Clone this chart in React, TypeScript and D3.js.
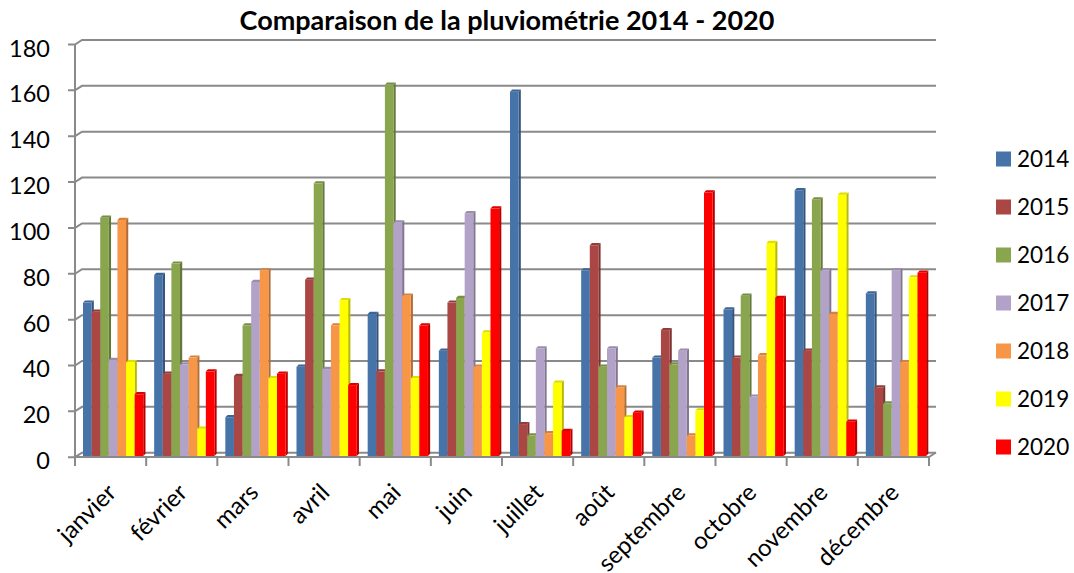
import React from "react";
import * as d3 from "d3";

const months = ["janvier", "février", "mars", "avril", "mai", "juin", "juillet", "août", "septembre", "octobre", "novembre", "décembre"];
const years = ["2014", "2015", "2016", "2017", "2018", "2019", "2020"];
const colors = ["#4674A9", "#AA4643", "#89A54E", "#B3A2C7", "#F79646", "#FFFF00", "#FF0000"];

const s2014 = [66, 78, 16, 38, 61, 45, 158, 80, 42, 63, 115, 70];
const s2015 = [62, 35, 34, 76, 36, 66, 13, 91, 54, 42, 45, 29];
const s2016 = [103, 83, 56, 118, 161, 68, 8, 38, 39, 69, 111, 22];
const s2017 = [41, 39, 75, 37, 101, 105, 46, 46, 45, 25, 80, 80];
const s2018 = [102, 42, 80, 56, 69, 38, 9, 29, 8, 43, 61, 40];
const s2019 = [40, 11, 33, 67, 33, 53, 31, 16, 19, 92, 113, 77];
const s2020 = [26, 36, 35, 30, 56, 107, 10, 18, 114, 68, 14, 79];
const series = [s2014, s2015, s2016, s2017, s2018, s2019, s2020];
const yTicks = [0, 20, 40, 60, 80, 100, 120, 140, 160, 180];
const title = "Comparaison de la pluviométrie 2014 - 2020";

const W = 1074, H = 573;
const axisX = 75, axisRight = 929;
const floorY = 457;
const depthX = 7, depthY = 4.5;
const barDepth = 2.2;
const FONT = "Lato, 'Open Sans', sans-serif";
const GRID = "#8a8a8a";

export default function App() {
  const y = d3.scaleLinear().domain([0, 180]).range([452.7, 40]);
  const x0 = d3.scaleBand<string>().domain(months).range([axisX, axisRight]).padding(0);
  const cw = x0.bandwidth();
  const x1 = d3.scaleBand<string>().domain(years).range([8, 8 + cw * 0.847]).padding(0);
  const bw = x1.bandwidth();

  return (
    <svg width={W} height={H} style={{ display: "block", position: "absolute", left: 0, top: 0, background: "#fff" }}>
      {yTicks.map((t) => {
        const yb = y(t);
        const yf = yb + depthY;
        return (
          <g key={t}>
            <polyline
              points={`${axisX - 7},${yf} ${axisX},${yf} ${axisX + depthX},${yb} ${axisRight + depthX},${yb}`}
              fill="none"
              stroke={GRID}
              strokeWidth={2}
            />
            <text x={50} y={yf + 3} textAnchor="end" dominantBaseline="central" fontFamily={FONT} fontSize={23.5} fill="#000">
              {t}
            </text>
          </g>
        );
      })}
      <line x1={axisX} x2={axisX} y1={y(180) + depthY} y2={floorY + 9} stroke={GRID} strokeWidth={2} />
      {months.map((m, i) => (
        <g key={m}>
          {series.map((s, j) => {
            const v = s[i];
            const bx = (x0(m) as number) + (x1(years[j]) as number);
            const top = y(v) + 1.2;
            const bot = floorY - 1;
            const c = colors[j];
            const side = d3.color(c)!.darker(0.9).formatHex();
            const topc = d3.color(c)!.darker(0.4).formatHex();
            const d = barDepth;
            return (
              <g key={j}>
                <polygon points={`${bx + bw},${top} ${bx + bw + d},${top - d} ${bx + bw + d},${bot - d} ${bx + bw},${bot}`} fill={side} />
                <polygon points={`${bx},${top} ${bx + d},${top - d} ${bx + bw + d},${top - d} ${bx + bw},${top}`} fill={topc} />
                <rect x={bx} y={top} width={bw} height={bot - top} fill={c} />
              </g>
            );
          })}
        </g>
      ))}
      <polyline
        points={`${axisX},${floorY} ${axisRight},${floorY} ${axisRight + depthX},${floorY - depthY}`}
        fill="none"
        stroke={GRID}
        strokeWidth={2}
      />
      {d3.range(months.length + 1).map((k) => {
        const xx = axisX + k * cw;
        return <line key={k} x1={xx} x2={xx} y1={floorY} y2={floorY + 9} stroke={GRID} strokeWidth={2} />;
      })}
      {months.map((m) => {
        const cx = (x0(m) as number) + cw / 2;
        const ax = cx + 7, ay = 494;
        return (
          <text key={m} x={ax} y={ay} transform={`rotate(-45 ${ax} ${ay})`} textAnchor="end" fontFamily={FONT} fontSize={24} fill="#000">
            {m}
          </text>
        );
      })}
      <text x={507} y={30} textAnchor="middle" fontFamily={FONT} fontWeight="bold" fontSize={27} fill="#000">
        {title}
      </text>
      {years.map((yr, j) => {
        const ly = 159 + j * 48;
        return (
          <g key={yr}>
            <rect x={996} y={ly - 7.5} width={15} height={15} fill={colors[j]} />
            <text x={1017} y={ly + 8} fontFamily={FONT} fontSize={22.5} fill="#000">
              {yr}
            </text>
          </g>
        );
      })}
    </svg>
  );
}
